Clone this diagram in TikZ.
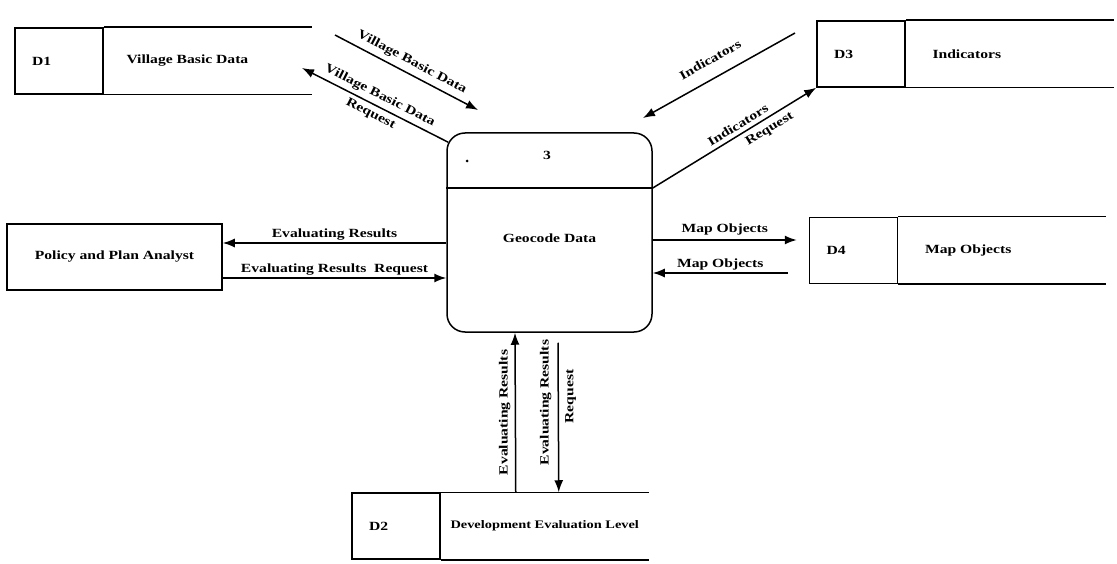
\documentclass[tikz,border=0pt]{standalone}
\usepackage{fontspec}
\newfontfamily\dfdfont[FakeStretch=1.25]{Liberation Serif}
\usetikzlibrary{arrows.meta,positioning}

\begin{document}
\begin{tikzpicture}[x=1pt,y=-1pt,>={Latex[length=12pt,width=9pt]},line width=1.5pt,
  every node/.style={font=\dfdfont\bfseries\fontsize{12.5}{14}\selectfont},
  idbox/.style={draw,minimum height=66pt,text width=54pt,inner xsep=17pt,align=left},
  storetxt/.style={inner sep=0pt},
  lbl/.style={inner sep=1pt},
  vlbl/.style={inner sep=1pt,rotate=90}]

\useasboundingbox (0,0) rectangle (1117,564);

\def\sl{208}

% Prozess 3
\node (proc) [draw,rounded corners=18pt,minimum width=205pt,minimum height=199pt] at (549.5,232.5) {};
\coordinate (hdr) at (0,188);
\draw (proc.west |- hdr) -- (proc.east |- hdr);
\node (pnum) at (547,155) {3};
\fill (467,161) circle[radius=1.5];
\node (pname) at (549.5,238) {Geocode Data};

% Externe Einheit
\node (pol) [draw,minimum width=215pt,minimum height=66pt] at (114.5,257) {Policy and Plan Analyst};

% Datenspeicher D1
\node (d1id) [idbox] at (59,61) {D1};
\node (d1) [storetxt,right=22pt of d1id] {Village Basic Data};
\draw (d1id.north east) -- ++(\sl,0) (d1id.south east) -- ++(\sl,0);

% Datenspeicher D3
\node (d3id) [idbox] at (861,54) {D3};
\node (d3) [storetxt,right=26pt of d3id] {Indicators};
\draw (d3id.north east) -- ++(\sl,0) (d3id.south east) -- ++(\sl,0);

% Datenspeicher D4
\node (d4id) [idbox] at (853.5,250.5) {D4};
\node (d4) [storetxt,right=26pt of d4id] {Map Objects};
\draw (d4id.north east) -- ++(\sl,0) (d4id.south east) -- ++(\sl,0);

% Datenspeicher D2
\node (d2id) [idbox] at (396,526) {D2};
\node (d2) [storetxt,right=9pt of d2id,font=\dfdfont\bfseries\fontsize{11.5}{14}\selectfont] {Development Evaluation Level};
\draw (d2id.north east) -- ++(\sl,0) (d2id.south east) -- ++(\sl,0);

% Fluesse D1
\coordinate (vbdA) at (335,35);
\coordinate (vbdB) at (478,110);
\coordinate (vbdC) at (302,68);
\draw[->] (vbdA) -- node[lbl,sloped,above=4pt] {Village Basic Data} (vbdB);
\draw[->] ([xshift=2pt,yshift=-10pt]proc.north west) --
  node[lbl,sloped,above=3pt] {Village Basic Data}
  node[lbl,sloped,below=3pt] {Request} (vbdC);

% Fluesse D3
\coordinate (indA) at (795,33);
\coordinate (indB) at (643,118);
\draw[->] (indA) -- node[lbl,sloped,above=12pt] {Indicators} (indB);
\draw[->] (proc.east |- hdr) --
  node[lbl,sloped,above=3pt,pos=0.55] {Indicators}
  node[lbl,sloped,below=4pt,pos=0.68] {Request} (d3id.south west);

% Fluesse D4
\draw[->] ([yshift=-7.5pt]proc.east) -- node[lbl,above=3pt] {Map Objects} ([xshift=-12pt,yshift=10.5pt]d4id.west);
\draw[->] ([xshift=-21pt,yshift=-22.5pt]d4id.west) -- node[lbl,above=1pt] {Map Objects} ([yshift=-40.5pt]proc.east);

% Fluesse Analyst
\draw[->] ([yshift=-10.5pt]proc.west) -- node[lbl,above=1pt] {Evaluating Results} ([yshift=14pt]pol.east);
\draw[->] ([yshift=-21pt]pol.east) -- node[lbl,above=1pt] {Evaluating Results~ Request} ([yshift=-45.5pt]proc.west);

% Fluesse D2
\draw[->] ([xshift=75pt]d2id.north east) -- node[vlbl,anchor=south,outer sep=4pt] {Evaluating Results} ([xshift=-34.5pt]proc.south);
\draw[->] ([xshift=8.5pt,yshift=-10pt]proc.south) --
  node[vlbl,anchor=south,outer sep=6pt,pos=0.4] {Evaluating Results}
  node[vlbl,anchor=north,outer sep=6pt,pos=0.36] {Request} ([xshift=118pt]d2id.north east);

\end{tikzpicture}
\end{document}
